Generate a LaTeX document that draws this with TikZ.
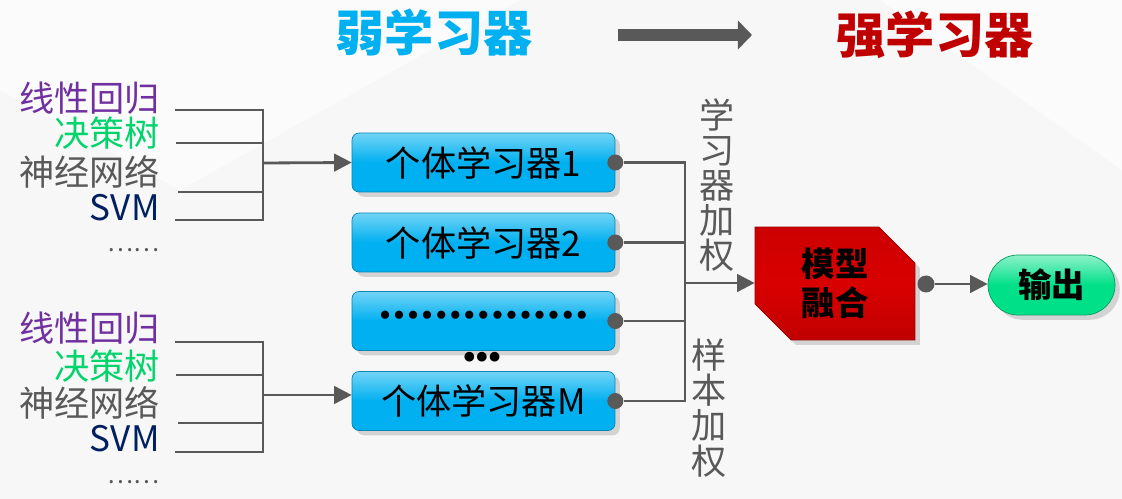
\documentclass[tikz,border=0pt]{standalone}
\usepackage{fontspec}
\setmainfont{Noto Sans CJK SC}
\usetikzlibrary{arrows.meta,shapes.misc,shadows}
\definecolor{weakblue}{HTML}{00B0F0}
\definecolor{strongred}{HTML}{C00000}
\definecolor{wiregray}{HTML}{595959}
\definecolor{lrpurple}{HTML}{7030A0}
\definecolor{dtgreen}{HTML}{00D46A}
\definecolor{svmnavy}{HTML}{002060}
\definecolor{outgreen}{HTML}{00E088}
\newcommand\bdot{{\bullet}\mkern3mu}
\begin{document}
\begin{tikzpicture}[x=0.02cm,y=-0.02cm,
  wire/.style={draw=wiregray,line width=1.6pt},
  feed/.style={wire,-{Triangle[length=10pt,width=10pt]}},
  algo/.style={anchor=east,inner sep=0pt,font=\fontsize{20}{20}\selectfont},
  learner/.style={rounded corners=4pt,draw=weakblue!75!black,
    top color=weakblue!55!white,bottom color=weakblue,middle color=weakblue,
    minimum width=5.26cm,minimum height=1.18cm,inner sep=0pt,
    font=\fontsize{20}{20}\selectfont,drop shadow={opacity=0.3}},
  port/.style={circle,fill=wiregray,inner sep=0pt,minimum size=0.32cm},
  vlabel/.style={align=center,text=wiregray,font=\fontsize{20}{20}\selectfont}]
\useasboundingbox[fill=gray!6] (0,0) rectangle (1122,499);
\fill[white,opacity=0.6] (0,0) -- (520,0) -- (180,190) -- (0,90) -- cycle;
\fill[white,opacity=0.5] (880,0) -- (1122,0) -- (1122,170) -- cycle;

% titles
\node[text=weakblue,font=\fontsize{28}{28}\selectfont\bfseries] (weak) at (434,33) {弱学习器};
\node[text=strongred,font=\fontsize{28}{28}\selectfont\bfseries] (strong) at (935,35) {强学习器};
\coordinate (ta) at (618,35);
\coordinate (tb) at (752,35);
\draw[draw=wiregray,line width=7pt,-{Triangle[length=8pt,width=16pt]}] (ta) -- (tb);

% first group of algorithms
\node[algo,text=lrpurple] (lr1) at (160,98) {线性回归};
\node[algo,text=dtgreen] (dt1) at (160,133) {决策树};
\node[algo,text=wiregray] (nn1) at (160,172) {神经网络};
\node[algo,text=svmnavy] (svm1) at (160,208) {SVM};
\node[algo,text=wiregray,font=\fontsize{14}{14}\selectfont] (more1) at (160,250) {……};
\coordinate (a1) at (175,110);
\coordinate (b1) at (176,143);
\coordinate (c1) at (178,192);
\coordinate (e1) at (175,220);
\coordinate (j1) at (263,163);
\draw[wire] (a1) -| (j1);
\draw[wire] (b1) -| (j1);
\draw[wire] (c1) -| (j1);
\draw[wire] (e1) -| (j1);

% second group of algorithms
\node[algo,text=lrpurple] (lr2) at (160,328) {线性回归};
\node[algo,text=dtgreen] (dt2) at (160,366) {决策树};
\node[algo,text=wiregray] (nn2) at (160,403) {神经网络};
\node[algo,text=svmnavy] (svm2) at (160,439) {SVM};
\node[algo,text=wiregray,font=\fontsize{14}{14}\selectfont] (more2) at (160,482) {……};
\coordinate (a2) at (175,342);
\coordinate (b2) at (176,375);
\coordinate (c2) at (178,423);
\coordinate (e2) at (175,452);
\coordinate (j2) at (263,395);
\draw[wire] (a2) -| (j2);
\draw[wire] (b2) -| (j2);
\draw[wire] (c2) -| (j2);
\draw[wire] (e2) -| (j2);

% individual learners
\node[learner] (l1) at (483.5,162.5) {个体学习器1};
\node[learner] (l2) at (483.5,242.5) {个体学习器2};
\node[learner,font=\fontsize{13}{13}\selectfont] (l3) at (483.5,321) {\raisebox{6pt}{$\bdot\bdot\bdot\bdot\bdot\bdot\bdot\bdot\bdot\bdot\bdot\bdot\bdot\bdot{\bullet}$}};
\node[learner] (lM) at (483.5,401) {个体学习器M};
\node[font=\fontsize{14}{14}\selectfont] (gap) at (482,358) {${\bullet}{\bullet}{\bullet}$};
\draw[feed] (j1) -- (l1.west);
\draw[feed] (j2) -- (j2 -| lM.west);

\node[port] (p1) at (l1.east) {};
\node[port] (p2) at (l2.east) {};
\node[port] (p3) at (l3.east) {};
\node[port] (pM) at (lM.east) {};

% fusion
\node[chamfered rectangle,chamfered rectangle corners={north east,south west},
  chamfered rectangle xsep=0.36cm,chamfered rectangle ysep=0.36cm,
  draw=strongred!80!black,top color=red!80!black,bottom color=strongred,middle color=red!85!black,
  minimum width=3.2cm,minimum height=2.26cm,inner sep=0pt,align=center,
  font=\fontsize{19}{22}\selectfont\bfseries,drop shadow={opacity=0.3}] (fuse) at (835,283.5) {模型\\融合};
\coordinate (bus) at (685,283);
\draw[wire] (p1) -| (bus);
\draw[wire] (p2) -| (bus);
\draw[wire] (p3) -| (bus);
\draw[wire] (pM) -| (bus);
\draw[feed] (bus) -- (bus -| fuse.west);

\node[vlabel] (wl) at (717,185) {学\\习\\器\\加\\权};
\node[vlabel] (ws) at (709,408) {样\\本\\加\\权};

% output
\node[port,minimum size=0.34cm] (pout) at (926,284) {};
\node[rounded rectangle,draw=outgreen!70!black,top color=outgreen!45!white,bottom color=outgreen,middle color=outgreen,
  minimum width=2.54cm,minimum height=1.2cm,inner sep=0pt,
  font=\fontsize{19}{19}\selectfont\bfseries,drop shadow={opacity=0.3}] (out) at (1051.5,285) {输出};
\draw[feed] (pout) -- (pout -| out.west);
\end{tikzpicture}
\end{document}
